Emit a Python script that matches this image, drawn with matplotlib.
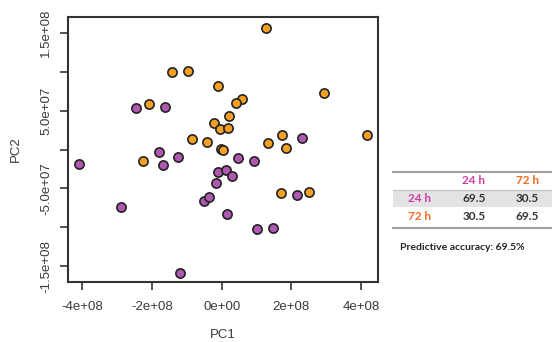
import matplotlib
matplotlib.use('Agg')
import matplotlib.pyplot as plt
from matplotlib.lines import Line2D
from matplotlib.patches import Rectangle

plt.rcParams['font.family'] = ['Liberation Sans', 'DejaVu Sans']

# PCA scores
pc1_72h = [1.26e8, -1.42e8, -0.97e8, -0.09e8, 2.93e8, -2.08e8, 0.57e8, 0.42e8,
           0.20e8, -0.22e8, -0.06e8, 0.18e8, -0.85e8, -0.42e8, 4.16e8, 1.74e8,
           1.32e8, 1.85e8, -0.01e8, 0.04e8, -2.25e8, 1.69e8, 2.50e8]
pc2_72h = [1.572e8, 1.005e8, 1.014e8, 0.825e8, 0.727e8, 0.585e8, 0.653e8, 0.602e8,
           0.430e8, 0.340e8, 0.263e8, 0.284e8, 0.142e8, 0.103e8, 0.186e8, 0.189e8,
           0.086e8, 0.018e8, 0.004e8, -0.008e8, -0.149e8, -0.554e8, -0.541e8]

pc1_24h = [-4.10e8, -2.45e8, -1.63e8, -1.80e8, -1.26e8, -1.68e8, -2.87e8, -1.19e8,
           2.31e8, 0.47e8, 0.92e8, -0.11e8, 0.12e8, 0.30e8, -0.15e8, -0.50e8,
           -0.36e8, 0.14e8, 2.15e8, 1.02e8, 1.48e8]
pc2_24h = [-0.184e8, 0.537e8, 0.550e8, -0.026e8, -0.094e8, -0.193e8, -0.735e8, -1.585e8,
           0.147e8, -0.111e8, -0.149e8, -0.287e8, -0.265e8, -0.343e8, -0.433e8, -0.657e8,
           -0.610e8, -0.833e8, -0.588e8, -1.018e8, -1.013e8]

x_ticks = [-4e8, -2e8, 0, 2e8, 4e8]
x_ticklabels = ['-4e+08', '-2e+08', '0e+00', '2e+08', '4e+08']
y_ticks = [-1.5e8, -1e8, -5e7, 0, 5e7, 1e8, 1.5e8]
y_ticklabels = ['-1.5e+08', '', '-5.0e+07', '', '5.0e+07', '', '1.5e+08']

# confusion table
groups = ['24 h', '72 h']
conf = [[69.5, 30.5], [30.5, 69.5]]
accuracy = 69.5

col_orange = '#F5A022'
col_purple = '#B058B0'
lbl_colors = {'24 h': '#D03CA8', '72 h': '#F26A1E'}

W, H = 552, 342
fig = plt.figure(figsize=(W / 100, H / 100), dpi=100)


def px(x, y):
    return x / W, 1 - y / H


afont = dict(family=['Liberation Sans', 'DejaVu Sans'], fontsize=9.5, color='#3a3a3a')

ax = fig.add_axes([67.7 / W, 1 - 282 / H, (378 - 67.7) / W, (282 - 16.7) / H])
ax.scatter(pc1_72h, pc2_72h, s=44, c=col_orange, edgecolors='#222222', linewidths=1.2, zorder=3)
ax.scatter(pc1_24h, pc2_24h, s=44, c=col_purple, edgecolors='#222222', linewidths=1.2, zorder=3)

ax.set_xlim(-4.41e8, 4.48e8)
ax.set_ylim(-1.705e8, 1.714e8)
ax.set_xticks(x_ticks)
ax.set_xticklabels(x_ticklabels, **afont)
ax.set_yticks(y_ticks)
ax.set_yticklabels(y_ticklabels, rotation=90, va='center', **afont)
ax.tick_params(direction='out', length=6, width=1.3, color='#444444', pad=5)
ax.tick_params(axis='x', pad=8)
for sp in ax.spines.values():
    sp.set_linewidth(1.5)
    sp.set_color('#333333')
ax.set_xlabel('PC1', labelpad=11, **afont)
ax.set_ylabel('PC2', labelpad=13, **afont)

# table on the right
tf = fig.transFigure
line_c = '#a0a0a0'
for yy in [171.5, 228]:
    fig.add_artist(Line2D([393 / W, 1], [1 - yy / H] * 2, transform=tf, color=line_c, lw=1.5))
fig.add_artist(Rectangle(px(393, 207), (W - 393) / W, 17 / H, transform=tf,
                         facecolor='#e3e3e3', edgecolor='none'))
fig.add_artist(Line2D([393 / W, 1], [1 - 190 / H] * 2, transform=tf, color='#c8c8c8', lw=1.0))

col_x = [474, 527]
tfont = dict(family=['Lato', 'DejaVu Sans'], fontsize=8.5, fontweight='bold', ha='center', va='center')
for j, g in enumerate(groups):
    fig.text(*px(col_x[j], 180), g, color=lbl_colors[g], **tfont)
row_y = [198.5, 217]
for i, g in enumerate(groups):
    fig.text(*px(420, row_y[i]), g, color=lbl_colors[g], **tfont)
    for j in range(2):
        fig.text(*px(col_x[j], row_y[i]), f'{conf[i][j]:.1f}', color='#333333', **tfont)

fig.text(*px(400, 248), f'Predictive accuracy: {accuracy}%', color='#222222',
         family=['Lato', 'DejaVu Sans'], fontsize=7.5, fontweight='bold', ha='left', va='center')

fig.savefig('out.png', dpi=100)
